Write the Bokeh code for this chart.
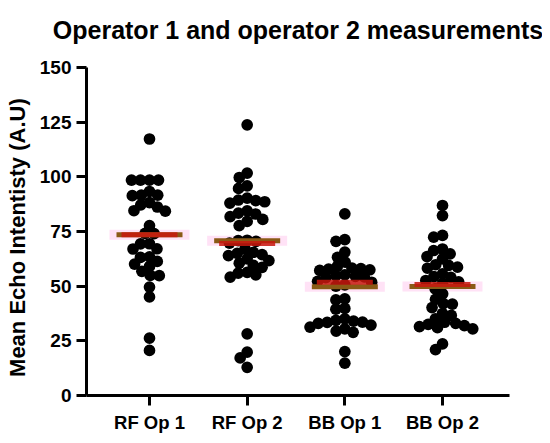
import math
from bokeh.plotting import figure
from bokeh.models import FixedTicker, Range1d
from bokeh.layouts import column
from bokeh.embed import file_html
from bokeh.resources import INLINE

# ---- data ----
categories = ["RF Op 1", "RF Op 2", "BB Op 1", "BB Op 2"]

rf_op1 = [117.3, 98.5, 98.5, 98.5, 98.5, 93.3, 91.6, 91.6, 91.4, 88.2, 87.2,
          86.2, 84.5, 84.3, 77.7, 74.1, 74.0, 69.4, 69.3, 67.1, 67.0, 63.4,
          63.2, 61.3, 60.1, 59.0, 56.8, 54.9, 54.8, 49.6, 45.1, 26.2, 20.6]
rf_op2 = [123.8, 101.7, 99.7, 95.9, 94.7, 90.3, 89.4, 89.1, 88.6, 88.0, 84.4,
          83.4, 83.0, 81.8, 80.5, 79.6, 77.7, 71.0, 70.8, 70.5, 69.7, 67.0,
          65.5, 65.0, 64.4, 64.0, 62.5, 61.7, 60.5, 59.5, 58.6, 56.3, 56.0,
          55.2, 54.1, 28.2, 19.8, 17.2, 12.9]
bb_op1 = [83.1, 71.3, 70.5, 65.6, 63.2, 61.0, 59.0, 58.3, 58.0, 57.8, 57.5,
          57.2, 55.2, 54.8, 54.5, 54.2, 53.9, 52.2, 51.8, 50.6, 50.0, 44.2,
          43.7, 39.8, 39.5, 35.0, 34.4, 34.0, 33.6, 33.4, 33.0, 32.2, 31.3,
          30.5, 29.4, 28.9, 20.1, 14.8]
bb_op2 = [86.9, 82.3, 73.2, 72.4, 67.0, 66.3, 64.8, 63.5, 62.5, 59.8, 59.5,
          58.7, 58.2, 55.6, 54.4, 54.0, 52.6, 52.0, 51.2, 48.8, 46.5, 44.0,
          42.0, 41.8, 40.2, 37.5, 36.6, 35.0, 33.5, 33.0, 32.5, 32.0, 31.5,
          31.0, 30.5, 23.6, 21.0]
groups = [rf_op1, rf_op2, bb_op1, bb_op2]

means = [73.5, 70.8, 49.7, 49.8]     # brown lines
medians = [73.5, 69.5, 51.8, 50.8]   # red lines

y_ticks = [0, 25, 50, 75, 100, 125, 150]
title_text = "Operator 1 and operator 2 measurements"

# ---- geometry ----
W = 542
TITLE_H = 48
H = 435 - TITLE_H
left, right, top, bottom = 86, 33, 19, 40
frame_w = W - left - right
frame_h = H - top - bottom
x_start, x_end = -0.645, 3.686
px_per_x = frame_w / (x_end - x_start)
px_per_y = frame_h / 150.0
DOT = 11.7


def swarm(vals, d=9.0):
    ys = [v * px_per_y for v in vals]
    order = sorted(range(len(vals)), key=lambda i: -vals[i])
    placed = []
    xs = [0.0] * len(vals)
    for i in order:
        y = ys[i]
        cands = [0.0]
        for (xj, yj) in placed:
            dy = y - yj
            if abs(dy) < d:
                dx = math.sqrt(d * d - dy * dy)
                cands += [xj + dx, xj - dx]
        cands.sort(key=lambda c: (round(abs(c), 6), c))
        chosen = 0.0
        for c in cands:
            if all((c - xj) ** 2 + (y - yj) ** 2 >= d * d - 1e-6 for xj, yj in placed):
                chosen = c
                break
        placed.append((chosen, y))
        xs[i] = chosen
    return xs


# ---- title strip ----
t = figure(width=W, height=TITLE_H, output_backend="svg", toolbar_location=None,
           x_axis_type=None, y_axis_type=None,
           x_range=Range1d(0, 1), y_range=Range1d(0, 1),
           min_border_left=left, min_border_right=right,
           min_border_top=45, min_border_bottom=0)
t.outline_line_color = None
t.background_fill_color = "white"
t.border_fill_color = "white"
t.title.text = title_text
t.title.align = "center"
t.title.vertical_align = "bottom"
t.title.standoff = 4
t.title.text_font = "Liberation Sans"
t.title.text_font_style = "bold"
t.title.text_font_size = "25px"
t.title.text_color = "black"

# ---- main chart ----
p = figure(width=W, height=H, output_backend="svg", toolbar_location=None,
           x_range=Range1d(x_start, x_end), y_range=Range1d(0, 150),
           min_border_left=left, min_border_right=right,
           min_border_top=top, min_border_bottom=bottom)

p.outline_line_color = None
p.xgrid.visible = False
p.ygrid.visible = False
p.background_fill_color = "white"
p.border_fill_color = "white"

cat_idx = list(range(len(categories)))

# pink bands behind points
p.rect(x=cat_idx, y=means, width=80 / px_per_x, height=10, height_units="screen",
       fill_color="#ffe2f6", line_color=None)

for gi, vals in enumerate(groups):
    offs = swarm(vals)
    xs = [gi + o / px_per_x for o in offs]
    p.scatter(x=xs, y=vals, size=DOT, fill_color="black", line_color=None)

p.rect(x=cat_idx, y=means, width=66 / px_per_x, height=5, height_units="screen",
       fill_color="#8a5a16", line_color=None)
p.rect(x=cat_idx, y=medians, width=56 / px_per_x, height=5, height_units="screen",
       fill_color="#c8170e", fill_alpha=0.85, line_color=None)

xa = p.below[0]
ya = p.left[0]
for ax in (xa, ya):
    ax.axis_line_width = 3
    ax.axis_line_color = "black"
    ax.major_tick_line_width = 3
    ax.major_tick_line_color = "black"
    ax.major_tick_in = 0
    ax.major_tick_out = 10
    ax.minor_tick_line_color = None
    ax.major_label_text_font = "Liberation Sans"
    ax.major_label_text_font_style = "bold"
    ax.major_label_text_color = "black"

ya.ticker = FixedTicker(ticks=y_ticks)
ya.major_label_text_font_size = "19px"
ya.major_label_standoff = 5
ya.axis_label = "Mean  Echo  Intentisty (A.U)"
ya.axis_label_text_font = "Liberation Sans"
ya.axis_label_text_font_style = "bold"
ya.axis_label_text_font_size = "22px"
ya.axis_label_text_color = "black"
ya.axis_label_standoff = 7

xa.ticker = FixedTicker(ticks=cat_idx)
xa.major_label_overrides = {i: c for i, c in enumerate(categories)}
xa.major_label_text_font_size = "18.5px"
xa.major_label_standoff = 6

layout = column(t, p, spacing=0)
open("out.html", "w").write(file_html(layout, INLINE))
